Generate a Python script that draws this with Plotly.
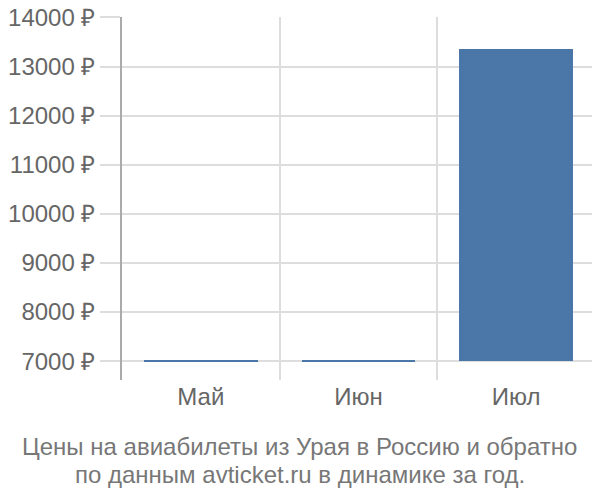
import plotly.graph_objects as go

months = ['Май', 'Июн', 'Июл']
prices = [7020, 7020, 13350]
base_price = 7000
y_ticks = [7000, 8000, 9000, 10000, 11000, 12000, 13000, 14000]
y_labels = [f'{v} ₽' for v in y_ticks]
title_lines = ['Цены на авиабилеты из Урая в Россию и обратно',
               'по данным avticket.ru в динамике за год.']

x_pos = list(range(len(months)))

fig = go.Figure()
fig.add_trace(go.Bar(
    x=x_pos,
    y=[p - base_price for p in prices],
    base=base_price,
    width=0.72,
    marker=dict(color='#4a77a8', line=dict(width=0)),
    hoverinfo='skip',
))

# the page puts the figure 8px in from the top-left corner
fig.update_layout(
    width=592, height=492,
    margin=dict(l=114, r=5, t=9, b=120),
    plot_bgcolor='white', paper_bgcolor='white',
    font=dict(family='Liberation Sans, Arial, sans-serif', size=24, color='#666'),
    showlegend=False,
    bargap=0,
)
fig.update_xaxes(
    range=[-0.5, 2.5],
    tickvals=x_pos, ticktext=months,
    showgrid=False, zeroline=False, showline=False,
    ticks='', ticklabelstandoff=0,
    automargin=False,
    minor=dict(tickvals=[0.5, 1.5, 2.5], showgrid=True, gridcolor='#dddddd', gridwidth=1.5),
)
fig.update_yaxes(
    range=[6615, 14010],
    tickvals=y_ticks, ticktext=y_labels,
    showgrid=True, gridcolor='#dddddd', gridwidth=1.5,
    zeroline=False, automargin=False,
    showline=True, linecolor='#aaaaaa', linewidth=1.5,
    ticks='outside', ticklen=20, tickcolor='#dddddd', tickwidth=1.5,
    ticklabelstandoff=0, ticklabeloverflow='allow',
)

for line, ypos in zip(title_lines, [-0.182, -0.259]):
    fig.add_annotation(
        text=line,
        xref='paper', yref='paper', x=0.376, y=ypos,
        xanchor='center', yanchor='middle', showarrow=False,
        font=dict(size=24, color='#777'),
    )

fig.write_html("out.html")
